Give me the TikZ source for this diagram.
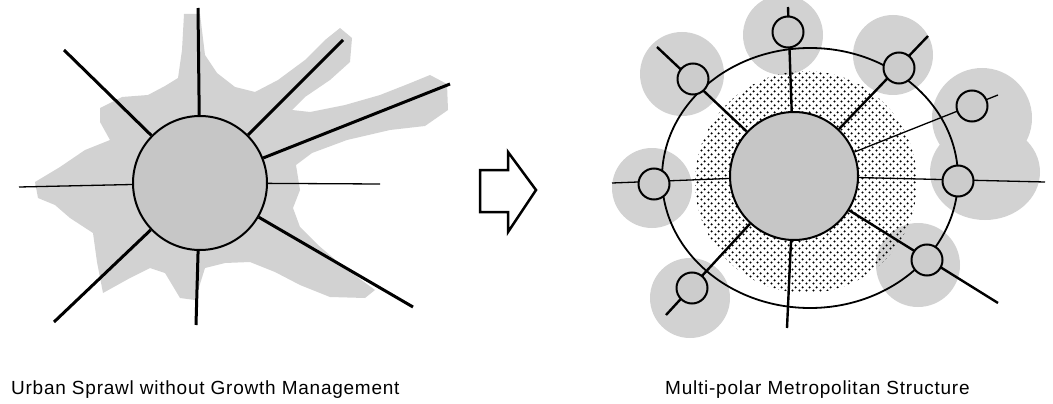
\documentclass[tikz,border=0pt]{standalone}
\usepackage{fontspec}
\setmainfont{Liberation Sans}
\newfontfamily\lblfont[LetterSpace=4]{Liberation Sans}
\usetikzlibrary{patterns.meta}
\tikzdeclarepattern{
  name=bigdots, type=uncolored,
  bounding box={(0pt,0pt) and (7pt,7pt)},
  tile size={(7pt,7pt)},
  code={\fill (1.75pt,1.75pt) circle (1.3pt); \fill (5.25pt,5.25pt) circle (1.3pt);}
}
\begin{document}
\begin{tikzpicture}[x=1pt,y=-1pt,
  stip/.style={fill=gray!35, draw=none},
  corecirc/.style={circle, draw, line width=2pt, fill=gray!45, minimum size=#1, inner sep=0pt},
  sat/.style={circle, draw, line width=2pt, fill=gray!40, minimum size=31pt, inner sep=0pt},
  heavy/.style={line width=3pt},
  medium/.style={line width=2.4pt},
  light/.style={line width=1.3pt},
  lbl/.style={anchor=base west, inner sep=0pt, font=\lblfont\fontsize{19}{22}\selectfont}
]
\useasboundingbox (0,0) rectangle (1053,404);

% ---------- left: urban sprawl ----------
\fill[stip] (184,14) -- (200,14) -- (205,55) -- (217,73) -- (235,87) -- (255,92) -- (278,80)
  -- (305,60) -- (325,40) -- (340,28) -- (352,38) -- (350,62) -- (330,80) -- (305,97)
  -- (292,110) -- (310,112) -- (345,105) -- (380,95) -- (408,84) -- (430,75) -- (447,84)
  -- (448,110) -- (425,126) -- (390,130) -- (347,140) -- (312,153) -- (296,165) -- (300,190)
  -- (293,208) -- (300,227) -- (318,245) -- (345,268) -- (375,290) -- (365,298) -- (330,297)
  -- (300,285) -- (275,272) -- (250,262) -- (225,263) -- (205,268) -- (195,300) -- (180,298)
  -- (165,273) -- (150,268) -- (130,278) -- (103,293) -- (97,262) -- (93,233) -- (70,218)
  -- (55,205) -- (38,198) -- (35,182) -- (60,167) -- (85,150) -- (110,140) -- (100,122)
  -- (100,108) -- (122,97) -- (148,95) -- (165,86) -- (178,78) -- (182,50) -- cycle;

\node[corecirc=134pt] (lcore) at (200,183) {};
\coordinate (lt) at (198,8);
\coordinate (lb) at (196,325);
\coordinate (lul) at (64,50);
\coordinate (lll) at (54,322);
\coordinate (ll) at (19,187);
\coordinate (lr) at (380,184);
\coordinate (lur) at (343,40);
\coordinate (lru) at (450,84);
\coordinate (llr) at (413,307);
\draw[heavy] (lcore) -- (lt);
\draw[heavy] (lcore) -- (lb);
\draw[heavy] (lcore) -- (lul);
\draw[heavy] (lcore) -- (lll);
\draw[light] (lcore) -- (ll);
\draw[light] (lcore) -- (lr);
\draw[heavy] (lcore) -- (lur);
\draw[heavy] (lcore) -- (lru);
\draw[heavy] (lcore) -- (llr);

% ---------- arrow ----------
\draw[line width=2.5pt, line join=miter] (480,170) -- (508,170) -- (508,152) -- (536,190)
  -- (508,232) -- (508,212) -- (480,212) -- cycle;

% ---------- right: multi-polar ----------
\fill[stip] (783,35) circle (40pt);
\fill[stip] (682,74) circle (42pt);
\fill[stip] (893,55) circle (40pt);
\fill[stip] (982,118) circle (50pt);
\fill[stip] (985,172) ellipse [x radius=55pt, y radius=48pt];
\fill[stip] (652,188) circle (40pt);
\fill[stip] (918,265) circle (42pt);
\fill[stip] (690,298) circle (40pt);

\fill[pattern=bigdots, pattern color=black] (806,182) circle (111pt);
\draw[line width=1.8pt] (810,178) ellipse [x radius=148pt, y radius=130pt];

\node[corecirc=128pt] (rcore) at (794,176) {};
\coordinate (rt) at (788,7);
\coordinate (rb) at (787,328);
\coordinate (rul) at (657,47);
\coordinate (rur) at (928,36);
\coordinate (rru) at (998,95);
\coordinate (rr) at (1045,182);
\coordinate (rlr) at (998,303);
\coordinate (rll) at (666,315);
\coordinate (rl) at (612,183);
\draw[medium] (rcore) -- (rt);
\draw[medium] (rcore) -- (rb);
\draw[medium] (rcore) -- (rul);
\draw[medium] (rcore) -- (rur);
\draw[light] (rcore) -- (rru);
\draw[light] (rcore) -- (rr);
\draw[medium] (rcore) -- (rlr);
\draw[medium] (rcore) -- (rll);
\draw[light] (rcore) -- (rl);

\node[sat] (s1) at (788,32) {};
\node[sat] (s2) at (693,79) {};
\node[sat] (s3) at (899,68) {};
\node[sat] (s4) at (972,106) {};
\node[sat] (s5) at (958,181) {};
\node[sat] (s6) at (654,184) {};
\node[sat] (s7) at (927,260) {};
\node[sat] (s8) at (692,288) {};

% ---------- labels ----------
\node[lbl] (cap1) at (11,394) {Urban Sprawl without Growth Management};
\node[lbl] (cap2) at (665,394) {Multi-polar Metropolitan Structure};
\end{tikzpicture}
\end{document}
